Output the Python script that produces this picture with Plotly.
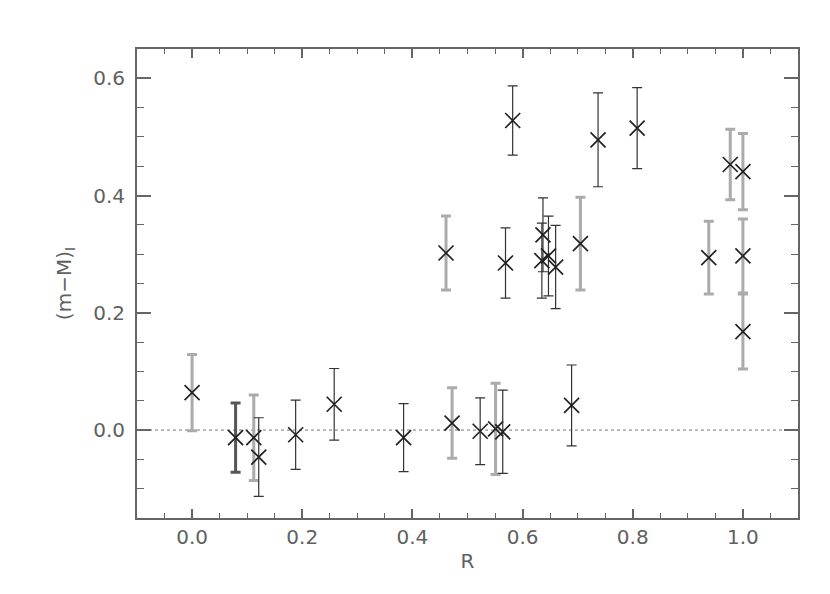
import plotly.graph_objects as go

# grey (thick) error bars
grey_R = [0.0, 0.112, 0.461, 0.472, 0.551, 0.705, 0.938, 0.977, 1.0, 1.0, 1.0]
grey_mu = [0.064, -0.013, 0.302, 0.012, 0.002, 0.318, 0.294, 0.453, 0.441, 0.297, 0.168]
grey_err = [0.065, 0.073, 0.063, 0.060, 0.078, 0.079, 0.062, 0.060, 0.065, 0.063, 0.064]

# dark thick error bar
dark_R = [0.079]
dark_mu = [-0.013]
dark_err = [0.059]

# black (thin) error bars
black_R = [0.121, 0.188, 0.258, 0.384, 0.523, 0.564, 0.689, 0.569, 0.582,
           0.637, 0.635, 0.647, 0.660, 0.737, 0.808]
black_mu = [-0.046, -0.008, 0.044, -0.013, -0.002, -0.003, 0.042, 0.285, 0.528,
            0.333, 0.289, 0.297, 0.278, 0.495, 0.515]
black_err = [0.067, 0.059, 0.061, 0.058, 0.057, 0.071, 0.069, 0.060, 0.059,
             0.063, 0.064, 0.068, 0.071, 0.080, 0.069]

x_ticks = [0.0, 0.2, 0.4, 0.6, 0.8, 1.0]
y_ticks = [0.0, 0.2, 0.4, 0.6]

fig = go.Figure()

def add(xs, ys, es, color, thick):
    fig.add_trace(go.Scatter(
        x=xs, y=ys, mode="markers",
        marker=dict(symbol="x-thin", size=15, color="#222",
                    line=dict(width=1.7, color="#222")),
        error_y=dict(type="data", array=es, visible=True, color=color,
                     thickness=thick, width=5),
        showlegend=False))

add(grey_R, grey_mu, grey_err, "#ababab", 3)
add(dark_R, dark_mu, dark_err, "#555555", 3)
add(black_R, black_mu, black_err, "#333333", 1.2)

fig.add_shape(type="line", xref="paper", x0=0, x1=1, yref="y", y0=0, y1=0,
              line=dict(color="#777", width=1, dash="dot"), layer="below")

font = dict(family="DejaVu Sans", size=20, color="#606060")

fig.update_xaxes(range=[-0.1, 1.1], tickvals=x_ticks,
                 ticktext=[f"{v:.1f}" for v in x_ticks],
                 showgrid=False, zeroline=False, showline=True,
                 linecolor="#666", linewidth=2, mirror="ticks",
                 ticks="inside", ticklen=9, tickwidth=1.5, tickcolor="#666",
                 minor=dict(ticks="inside", ticklen=5, dtick=0.05,
                            tick0=0, tickcolor="#666", tickwidth=1),
                 tickfont=font,
                 title=dict(text="R", font=font, standoff=6))
fig.update_yaxes(range=[-0.15, 0.65], tickvals=y_ticks,
                 ticktext=[f"{v:.1f}" for v in y_ticks],
                 showgrid=False, zeroline=False, showline=True,
                 linecolor="#666", linewidth=2, mirror="ticks",
                 ticks="inside", ticklen=14, tickwidth=1.5, tickcolor="#666",
                 minor=dict(ticks="inside", ticklen=7, dtick=0.05,
                            tick0=0, tickcolor="#666", tickwidth=1),
                 tickfont=font, ticklabelstandoff=6,
                 title=dict(text="(m\u2212M)<sub>I</sub>", font=font, standoff=16))

fig.update_layout(width=830, height=594,
                  margin=dict(l=129, r=40, t=41, b=84, autoexpand=False),
                  plot_bgcolor="white", paper_bgcolor="white")

fig.write_html("out.html")
